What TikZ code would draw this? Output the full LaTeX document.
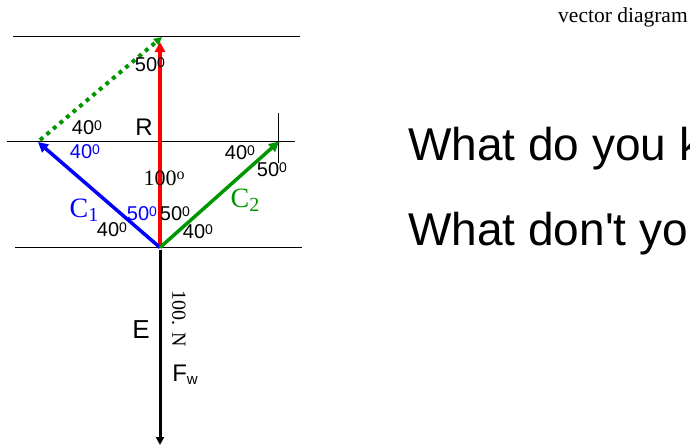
\documentclass[tikz,border=0pt]{standalone}
\usepackage{fontspec}
\setmainfont{Liberation Serif}
\newfontfamily\arialf{Liberation Sans}
\usetikzlibrary{arrows.meta}
\definecolor{vblue}{RGB}{0,0,255}
\definecolor{vgreen}{RGB}{0,150,0}
\definecolor{vred}{RGB}{255,0,0}
\newcommand{\degz}[1]{#1\raisebox{4.3pt}{\fontsize{14}{14}\selectfont 0}}
\tikzset{
  ang/.style={font=\arialf\fontsize{20}{20}\selectfont, inner sep=0pt},
  guide/.style={line width=1pt, draw=black},
  vec/.style={line width=3.5pt, -{Triangle[length=10pt,width=10pt]}},
  serifl/.style={font=\fontsize{22}{22}\selectfont, inner sep=0pt},
  bigsans/.style={font=\arialf\fontsize{46}{46}\selectfont, inner sep=0pt, anchor=base west},
}
\begin{document}
\begin{tikzpicture}[x=1pt,y=-1pt]
\useasboundingbox (0,0) rectangle (690,447);
\clip (0,0) rectangle (690,447);
% guide lines
\coordinate (t1) at (13,36);   \coordinate (t2) at (300,36);
\coordinate (m1) at (7,141.5); \coordinate (m2) at (295,141.5);
\coordinate (b1) at (15,247.5);\coordinate (b2) at (302,247.5);
\coordinate (k1) at (278,113); \coordinate (k2) at (278,163);
\draw[guide] (t1) -- (t2);
\draw[guide] (m1) -- (m2);
\draw[guide] (b1) -- (b2);
\draw[guide] (k1) -- (k2);
% vector points
\coordinate (O) at (160,247.5);
\coordinate (Rt) at (160,42);
\coordinate (C1e) at (38,142);
\coordinate (C2e) at (279,141.5);
\coordinate (Ds) at (40,140);
\coordinate (De) at (162,37);
\coordinate (Fe) at (160,445);
% vectors
\draw[vgreen, line width=4pt, dash pattern=on 4pt off 4.6pt, -{Triangle[length=8pt,width=8pt]}] (Ds) -- (De);
\draw[vec, vred, line width=4pt] (O) -- (Rt);
\draw[vec, vblue] (O) -- (C1e);
\draw[vec, vgreen] (O) -- (C2e);
\draw[black, line width=3pt, -{Triangle[length=8pt,width=8pt]}] (O) ++(0,2) -- (Fe);
% labels
\node[ang] (a1) at (150,65) {\degz{50}};
\node[ang] (a2) at (87,128) {\degz{40}};
\node[ang, font=\arialf\fontsize{24}{24}\selectfont] (lR) at (144,127) {R};
\node[ang, vblue] (a3) at (85,152) {\degz{40}};
\node[serifl] (a4) at (164,178) {100\raisebox{6pt}{\fontsize{16}{16}\selectfont o}};
\node[ang] (a5) at (240,153) {\degz{40}};
\node[ang] (a6) at (272,170) {\degz{50}};
\node[vblue, inner sep=0pt, font=\fontsize{28}{28}\selectfont] (lC1) at (84,210) {C\raisebox{-4pt}{\fontsize{20}{20}\selectfont 1}};
\node[vgreen, inner sep=0pt, font=\fontsize{28}{28}\selectfont] (lC2) at (245,200) {C\raisebox{-4pt}{\fontsize{20}{20}\selectfont 2}};
\node[ang, vblue] (a7) at (142,214) {\degz{50}};
\node[ang] (a8) at (175,214) {\degz{50}};
\node[ang] (a9) at (112,230) {\degz{40}};
\node[ang] (a10) at (198,232) {\degz{40}};
\node[ang, font=\arialf\fontsize{26}{26}\selectfont] (lE) at (141,330) {E};
\node[inner sep=0pt, rotate=-90, font=\fontsize{20}{20}\selectfont] (lN) at (179,319) {100. N};
\node[inner sep=0pt, font=\arialf\fontsize{24}{24}\selectfont] (lF) at (185,375) {F\raisebox{-3pt}{\fontsize{15}{15}\selectfont w}};
\node[inner sep=0pt, anchor=base west, font=\fontsize{21.5}{21.5}\selectfont] (title) at (558,23) {vector diagram};
\node[bigsans] (q1) at (408,160) {What do you k};
\node[bigsans] (q2) at (408,245) {What don't yo};
\end{tikzpicture}
\end{document}
